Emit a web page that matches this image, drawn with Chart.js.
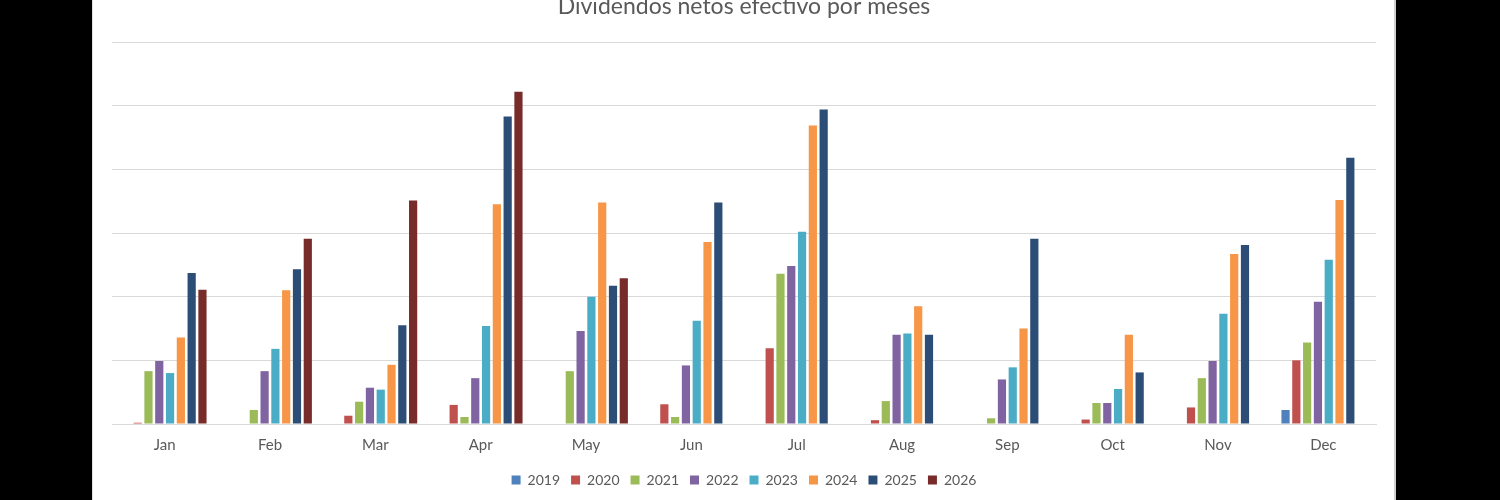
<!DOCTYPE html>
<html>
<head>
<meta charset="utf-8">
<script src="https://cdn.jsdelivr.net/npm/chart.js@4"></script>
<style>
  html, body { margin: 0; padding: 0; background: #000; overflow: hidden; }
  #panel { position: absolute; left: 92px; top: 0; width: 1304px; height: 500px; background: #fff;
           box-sizing: border-box; border-left: 1px solid #e0e0e0; border-right: 2px solid #cfcfcf; }
  #myChart { position: absolute; left: 92px; top: -7px; }
</style>
</head>
<body>
<div id="panel"></div>
<canvas id="myChart" width="1304" height="507"></canvas>
<script>
// values (gridline = 100)
var months = ['Jan', 'Feb', 'Mar', 'Apr', 'May', 'Jun', 'Jul', 'Aug', 'Sep', 'Oct', 'Nov', 'Dec'];
var years = ['2019', '2020', '2021', '2022', '2023', '2024', '2025', '2026'];
var y2019 = [null, null, null, null, null, null, null, null, null, null, null, 22];
var y2020 = [2, null, 13, 30, null, 31, 119, 6, null, 7, 26, 100];
var y2021 = [83, 22, 35, 11, 83, 11, 236, 36, 9, 33, 72, 128];
var y2022 = [99, 83, 57, 72, 146, 92, 248, 140, 70, 33, 99, 192];
var y2023 = [80, 118, 54, 154, 200, 162, 302, 142, 89, 55, 173, 258];
var y2024 = [136, 210, 93, 345, 348, 286, 469, 185, 150, 140, 267, 352];
var y2025 = [237, 243, 155, 483, 217, 348, 494, 140, 291, 81, 281, 418];
var y2026 = [211, 291, 351, 522, 229, null, null, null, null, null, null, null];
var colors = ['#4F81BD', '#C0504D', '#9BBB59', '#8064A2', '#4BACC6', '#F79646', '#2C4D75', '#772C2A'];

var series = [y2019, y2020, y2021, y2022, y2023, y2024, y2025, y2026];

Chart.defaults.font.family = 'Lato';
Chart.defaults.color = '#595959';

var ctx = document.getElementById('myChart').getContext('2d');
new Chart(ctx, {
    type: 'bar',
    data: {
        labels: months,
        datasets: series.map(function (s, i) {
            return {
                label: years[i],
                data: s,
                backgroundColor: colors[i],
                borderWidth: 0,
                categoryPercentage: 0.82,
                barPercentage: 0.76
            };
        })
    },
    options: {
        responsive: false,
        devicePixelRatio: 1,
        animation: false,
        layout: { padding: { left: 20, right: 20, top: 0, bottom: 3 } },
        plugins: {
            title: {
                display: true,
                text: 'Dividendos netos efectivo por meses',
                color: '#595959',
                font: { size: 23, weight: 'normal' },
                padding: { top: 0, bottom: 21.4 }
            },
            legend: {
                position: 'bottom',
                labels: {
                    boxWidth: 9,
                    boxHeight: 9,
                    padding: 11,
                    color: '#595959',
                    font: { size: 14 }
                }
            },
            tooltip: { enabled: false }
        },
        scales: {
            x: {
                grid: { display: false, drawTicks: false },
                border: { color: '#d9d9d9' },
                ticks: { padding: 12, color: '#595959', font: { size: 15 } },
                afterFit: function (scale) { scale.height -= 4; }
            },
            y: {
                min: 0,
                max: 600,
                ticks: { display: false, stepSize: 100 },
                grid: { color: '#d9d9d9', drawTicks: false },
                border: { display: false }
            }
        }
    }
});
</script>
</body>
</html>
